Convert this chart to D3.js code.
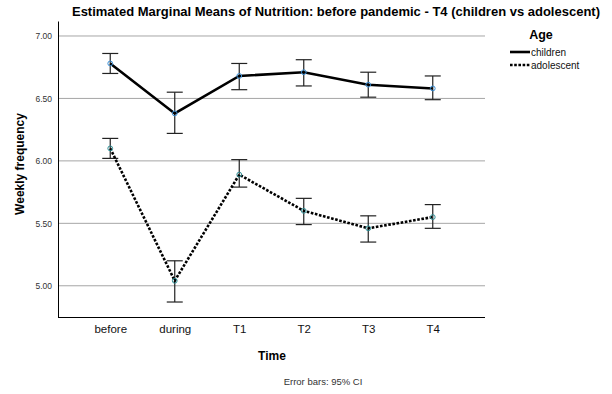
<!DOCTYPE html>
<meta charset="utf-8">
<style>
  body { margin: 0; background: #fff; }
  text { font-family: "Liberation Sans", Arial, sans-serif; }
</style>
<svg width="612" height="394"></svg>
<script src="https://d3js.org/d3.v7.min.js"></script>
<script>
// time points
var times = ["before", "during", "T1", "T2", "T3", "T4"]

// children means and 95% CI
var childMean = [6.78, 6.38, 6.68, 6.71, 6.61, 6.58]
var childLow  = [6.70, 6.22, 6.57, 6.60, 6.51, 6.49]
var childHigh = [6.86, 6.55, 6.78, 6.81, 6.71, 6.68]

// adolescent means and 95% CI
var adolMean = [6.10, 5.04, 5.89, 5.60, 5.46, 5.55]
var adolLow  = [6.02, 4.87, 5.79, 5.49, 5.35, 5.46]
var adolHigh = [6.18, 5.20, 6.01, 5.70, 5.56, 5.65]

var yTicks = [5.0, 5.5, 6.0, 6.5, 7.0]

var svg = d3.select('svg')

var plotL = 58, plotR = 485, plotT = 21, plotB = 317

var x = d3.scalePoint()
  .domain(times)
  .range([plotL, plotR])
  .padding(0.81)

var y = d3.scaleLinear()
  .domain([4.75, 7.12])
  .range([plotB, plotT])

// grid lines
svg.append('g')
  .selectAll('line')
  .data(yTicks)
  .enter().append('line')
    .attr('x1', plotL).attr('x2', plotR)
    .attr('y1', d => y(d)).attr('y2', d => y(d))
    .attr('stroke', '#a6a6a6')
    .attr('stroke-width', 1)

// y axis
var yAxis = svg.append('g')
  .attr('transform', 'translate(' + plotL + ',0)')
  .call(d3.axisLeft(y).tickValues(yTicks).tickFormat(d3.format('.2f')).tickSize(0).tickPadding(6))
yAxis.select('.domain').attr('stroke', '#000')
yAxis.selectAll('text').attr('font-size', 8.5).attr('fill', '#333')

// x axis
var xAxis = svg.append('g')
  .attr('transform', 'translate(0,' + plotB + ')')
  .call(d3.axisBottom(x).tickSize(0).tickPadding(8))
xAxis.select('.domain').attr('stroke', '#000').attr('d', 'M' + plotL + ',0.5H' + plotR)
xAxis.selectAll('text').attr('font-size', 11.5).attr('fill', '#111')

var series = [
  { name: 'children', mean: childMean, low: childLow, high: childHigh, dash: null, marker: '#3a8fd6' },
  { name: 'adolescent', mean: adolMean, low: adolLow, high: adolHigh, dash: '2.6,1.6', marker: '#2f8f96' }
]

series.forEach(function (s) {
  var pts = times.map((t, i) => ({ t: t, m: s.mean[i], lo: s.low[i], hi: s.high[i] }))

  var g = svg.append('g')

  // error bars
  var eb = g.selectAll('g.eb').data(pts).enter().append('g')
  eb.append('line')
    .attr('x1', d => x(d.t)).attr('x2', d => x(d.t))
    .attr('y1', d => y(d.lo)).attr('y2', d => y(d.hi))
    .attr('stroke', '#222').attr('stroke-width', 1.2)
  eb.append('line')
    .attr('x1', d => x(d.t) - 8).attr('x2', d => x(d.t) + 8)
    .attr('y1', d => y(d.lo)).attr('y2', d => y(d.lo))
    .attr('stroke', '#222').attr('stroke-width', 1.2)
  eb.append('line')
    .attr('x1', d => x(d.t) - 8).attr('x2', d => x(d.t) + 8)
    .attr('y1', d => y(d.hi)).attr('y2', d => y(d.hi))
    .attr('stroke', '#222').attr('stroke-width', 1.2)

  // mean line
  g.append('path')
    .datum(pts)
    .attr('fill', 'none')
    .attr('stroke', '#000')
    .attr('stroke-width', 2.6)
    .attr('stroke-dasharray', s.dash)
    .attr('d', d3.line().x(d => x(d.t)).y(d => y(d.m)))

  // markers
  g.selectAll('circle').data(pts).enter().append('circle')
    .attr('cx', d => x(d.t)).attr('cy', d => y(d.m))
    .attr('r', 2.4)
    .attr('fill', 'none')
    .attr('stroke', s.marker)
    .attr('stroke-width', 1)
})

// title
svg.append('text')
  .attr('x', 336).attr('y', 16)
  .attr('text-anchor', 'middle')
  .attr('font-size', 13).attr('font-weight', 'bold')
  .text('Estimated Marginal Means of Nutrition: before pandemic - T4 (children vs adolescent)')

// axis titles
svg.append('text')
  .attr('transform', 'translate(24,164) rotate(-90)')
  .attr('text-anchor', 'middle')
  .attr('font-size', 12).attr('font-weight', 'bold')
  .text('Weekly frequency')

svg.append('text')
  .attr('x', 272).attr('y', 360)
  .attr('text-anchor', 'middle')
  .attr('font-size', 12).attr('font-weight', 'bold')
  .text('Time')

svg.append('text')
  .attr('x', 323).attr('y', 385)
  .attr('text-anchor', 'middle')
  .attr('font-size', 9.5).attr('fill', '#333')
  .text('Error bars: 95% CI')

// legend
svg.append('text')
  .attr('x', 541).attr('y', 39)
  .attr('text-anchor', 'middle')
  .attr('font-size', 12.5).attr('font-weight', 'bold')
  .text('Age')

var leg = svg.append('g').selectAll('g').data(series).enter().append('g')
  .attr('transform', (d, i) => 'translate(0,' + (52 + i * 13) + ')')
leg.append('line')
  .attr('x1', 510).attr('x2', 530)
  .attr('stroke', '#000').attr('stroke-width', 2.6)
  .attr('stroke-dasharray', d => d.dash)
leg.append('text')
  .attr('x', 531).attr('y', 3.5)
  .attr('font-size', 10).attr('fill', '#111')
  .text(d => d.name)
</script>
